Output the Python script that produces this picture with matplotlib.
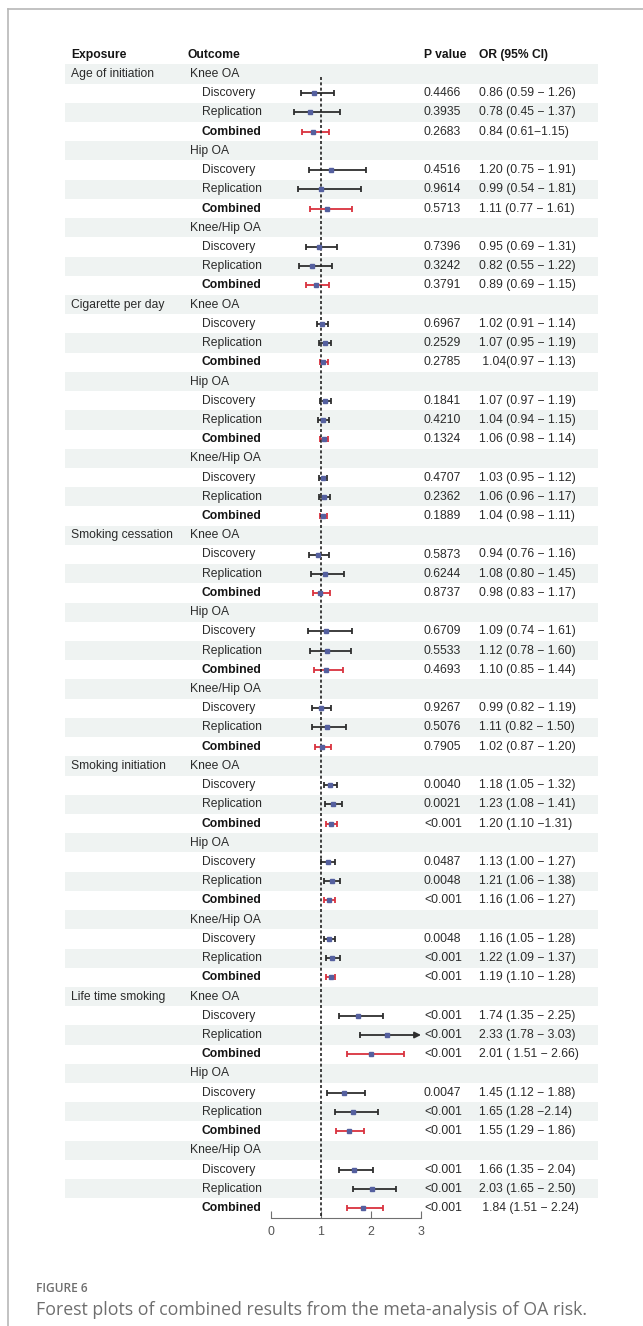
import matplotlib
matplotlib.use("Agg")
import matplotlib.pyplot as plt
from matplotlib.lines import Line2D

plt.rcParams["font.family"] = ["Liberation Sans", "DejaVu Sans"]

# ---------------------------------------------------------------- data
exposures = ["Age of initiation", "Cigarette per day", "Smoking cessation",
             "Smoking initiation", "Life time smoking"]
outcomes = ["Knee OA", "Hip OA", "Knee/Hip OA"]
analyses = ["Discovery", "Replication", "Combined"]

# one entry per (exposure, outcome, analysis), in table order
or_est = [0.86, 0.78, 0.84,  1.20, 0.99, 1.11,  0.95, 0.82, 0.89,
          1.02, 1.07, 1.04,  1.07, 1.04, 1.06,  1.03, 1.06, 1.04,
          0.94, 1.08, 0.98,  1.09, 1.12, 1.10,  0.99, 1.11, 1.02,
          1.18, 1.23, 1.20,  1.13, 1.21, 1.16,  1.16, 1.22, 1.19,
          1.74, 2.33, 2.01,  1.45, 1.65, 1.55,  1.66, 2.03, 1.84]
ci_low = [0.59, 0.45, 0.61,  0.75, 0.54, 0.77,  0.69, 0.55, 0.69,
          0.91, 0.95, 0.97,  0.97, 0.94, 0.98,  0.95, 0.96, 0.98,
          0.76, 0.80, 0.83,  0.74, 0.78, 0.85,  0.82, 0.82, 0.87,
          1.05, 1.08, 1.10,  1.00, 1.06, 1.06,  1.05, 1.09, 1.10,
          1.35, 1.78, 1.51,  1.12, 1.28, 1.29,  1.35, 1.65, 1.51]
ci_high = [1.26, 1.37, 1.15,  1.91, 1.81, 1.61,  1.31, 1.22, 1.15,
           1.14, 1.19, 1.13,  1.19, 1.15, 1.14,  1.12, 1.17, 1.11,
           1.16, 1.45, 1.17,  1.61, 1.60, 1.44,  1.19, 1.50, 1.20,
           1.32, 1.41, 1.31,  1.27, 1.38, 1.27,  1.28, 1.37, 1.28,
           2.25, 3.03, 2.66,  1.88, 2.14, 1.86,  2.04, 2.50, 2.24]
p_values = ["0.4466", "0.3935", "0.2683", "0.4516", "0.9614", "0.5713",
            "0.7396", "0.3242", "0.3791",
            "0.6967", "0.2529", "0.2785", "0.1841", "0.4210", "0.1324",
            "0.4707", "0.2362", "0.1889",
            "0.5873", "0.6244", "0.8737", "0.6709", "0.5533", "0.4693",
            "0.9267", "0.5076", "0.7905",
            "0.0040", "0.0021", "<0.001", "0.0487", "0.0048", "<0.001",
            "0.0048", "<0.001", "<0.001",
            "<0.001", "<0.001", "<0.001", "0.0047", "<0.001", "<0.001",
            "<0.001", "<0.001", "<0.001"]
# how each OR (95% CI) cell is written; default is "{0} ({1} − {2})"
or_formats = {2: "{0} ({1}−{2})", 11: " {0}({1} − {2})",
              29: "{0} ({1} −{2})", 38: "{0} ( {1} − {2})",
              40: "{0} ({1} −{2})", 44: " {0} ({1} − {2})"}

x_ticks = [0, 1, 2, 3]

# ---------------------------------------------------------------- layout
W, H = 643, 1326
fig = plt.figure(figsize=(W / 100, H / 100), dpi=100)


def fx(px):
    return px / W


def fy(py):
    return 1 - py / H


row0, dy = 74.0, 19.22
y_top, y_bot = -1.5, 59.5
top_px = row0 + dy * y_top
bot_px = row0 + dy * y_bot
box_y = fy(bot_px)
box_h = (bot_px - top_px) / H

tab_l, tab_r = 65, 598
ax_bg = fig.add_axes([fx(tab_l), box_y, fx(tab_r) - fx(tab_l), box_h])
ax_bg.set_xlim(tab_l, tab_r)
ax_bg.set_ylim(y_bot, y_top)
ax_bg.axis("off")

ax = fig.add_axes([fx(271), box_y, fx(421) - fx(271), box_h])
ax.set_xlim(0, 3)
ax.set_ylim(y_bot, y_top)
ax.patch.set_alpha(0)
for side in ("top", "left", "right"):
    ax.spines[side].set_visible(False)
ax.spines["bottom"].set_color("#707070")
ax.spines["bottom"].set_linewidth(0.8)
ax.set_yticks([])
ax.set_xticks(x_ticks)
ax.set_xticklabels([str(t) for t in x_ticks])
ax.tick_params(axis="x", direction="in", length=5, width=0.8,
               color="#707070", labelcolor="#555555", labelsize=8.9, pad=6)

FS = 8.7
TXT = "#2b2b2b"
BOLD = "#151515"
STRIPE = "#eff3f2"
LINE_DARK = "#2e2e2e"
LINE_RED = "#d9323e"
POINT = "#55609f"

x_exp, x_out, x_ana, x_p, x_or = 71, 190, 202, 424, 479

# header
for x, s in [(x_exp, "Exposure"), (187, "Outcome"), (x_p, "P value"),
             (x_or, "OR (95% CI)")]:
    ax_bg.text(x, -1, s, fontsize=FS, fontweight="bold", color=BOLD,
               va="center", ha="left")

row = 0
k = 0
for ei, exp in enumerate(exposures):
    for oi, out in enumerate(outcomes):
        if oi == 0:
            ax_bg.text(x_exp, row, exp, fontsize=FS, color=TXT,
                       va="center", ha="left")
        ax_bg.text(x_out, row, out, fontsize=FS, color=TXT,
                   va="center", ha="left")
        row += 1
        for ai, ana in enumerate(analyses):
            combined = ana == "Combined"
            ax_bg.text(x_ana, row, ana, fontsize=FS,
                       fontweight="bold" if combined else "normal",
                       color=BOLD if combined else TXT,
                       va="center", ha="left")
            ax_bg.text(x_p, row, p_values[k], fontsize=FS, color=TXT,
                       va="center", ha="left")
            fmt = or_formats.get(k, "{0} ({1} − {2})")
            ax_bg.text(x_or, row, fmt.format(f"{or_est[k]:.2f}",
                                             f"{ci_low[k]:.2f}",
                                             f"{ci_high[k]:.2f}"),
                       fontsize=FS, color=TXT, va="center", ha="left")

            col = LINE_RED if combined else LINE_DARK
            est, lo, hi = or_est[k], ci_low[k], ci_high[k]
            xmax = ax.get_xlim()[1]
            if hi > xmax:
                ax.annotate("", xy=(xmax, row), xytext=(lo, row),
                            arrowprops=dict(arrowstyle="-|>", color=col,
                                            lw=1.3, mutation_scale=9,
                                            shrinkA=0, shrinkB=0))
                ax.plot([lo, lo], [row - 0.17, row + 0.17], color=col,
                        lw=1.3, solid_capstyle="butt")
            else:
                ax.errorbar([est], [row], xerr=[[est - lo], [hi - est]],
                            fmt="none", ecolor=col, elinewidth=1.3,
                            capsize=2.4, capthick=1.3)
            ax.plot([est], [row], marker="s", ms=3.2, color=POINT,
                    mec=POINT, ls="none", zorder=4)
            row += 1
            k += 1

n_rows = row
for r in range(0, n_rows, 2):
    ax_bg.axhspan(r - 0.5, r + 0.5, color=STRIPE, lw=0, zorder=0)

# reference line at OR = 1
ax.vlines(1, 0.15, n_rows - 1 + 0.85, colors="#222222", lw=1.2,
          linestyles=(0, (1.8, 1.4)), zorder=2)

# card border
fig.add_artist(Line2D([fx(8), 1], [fy(9), fy(9)], color="#b8b8b8", lw=1.2))
fig.add_artist(Line2D([fx(8), fx(8)], [fy(9), 0], color="#b8b8b8", lw=1.2))

# caption
cap_col = "#6e6e6e"
t1 = fig.text(fx(36), fy(1288), "FIGURE 6", family=["Open Sans", "DejaVu Sans"],
              fontweight="semibold", fontsize=8, color=cap_col,
              va="center", ha="left")
t2 = fig.text(fx(36), fy(1310),
              "Forest plots of combined results from the meta-analysis of OA risk.",
              family=["Open Sans", "DejaVu Sans"], fontsize=11, color=cap_col,
              va="center", ha="left")
fig.canvas.draw()
for t, width in [(t1, 51), (t2, 553)]:
    w = t.get_window_extent().width
    t.set_fontsize(t.get_fontsize() * width / w)

fig.savefig("out.png", dpi=100)
